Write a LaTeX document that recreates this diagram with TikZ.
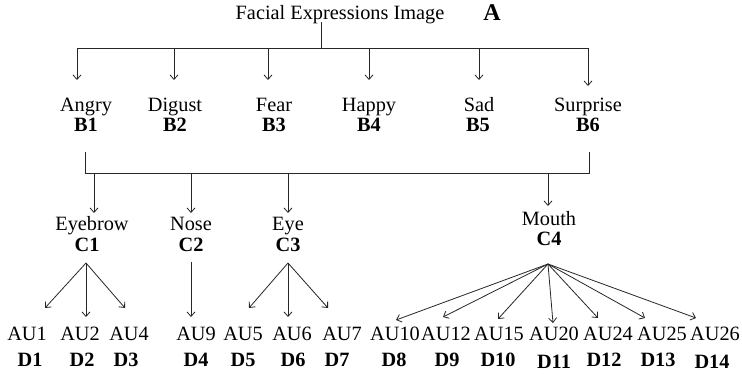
\documentclass[tikz,border=0pt]{standalone}
\usepackage{fontspec}
\setmainfont{Liberation Serif}
\usetikzlibrary{arrows.meta}
\begin{document}
\begin{tikzpicture}[x=1pt,y=-1pt,
  txt/.style={anchor=base,inner sep=0pt,font=\fontsize{20.3}{24}\selectfont},
  lbl/.style={anchor=base,inner sep=0pt,font=\fontsize{20.3}{24}\selectfont\bfseries},
  conn/.style={line width=0.8pt,draw=black!85},
  arr/.style={conn,-{Straight Barb[length=4.5pt,width=8pt]}}]
\path[use as bounding box] (0,0) rectangle (742,376);
% title
\node[txt] (title) at (340,19) {Facial Expressions Image};
\node[lbl,font=\fontsize{24}{28}\selectfont\bfseries] (lblA) at (492,20) {A};
% level B
\node[txt] (b1) at (86,111) {Angry};
\node[txt] (b2) at (175,111) {Digust};
\node[txt] (b3) at (274,111) {Fear};
\node[txt] (b4) at (369,111) {Happy};
\node[txt] (b5) at (479,111) {Sad};
\node[txt] (b6) at (588,111) {Surprise};
\node[lbl] (b1l) at (86,131) {B1};
\node[lbl] (b2l) at (175,131) {B2};
\node[lbl] (b3l) at (274,131) {B3};
\node[lbl] (b4l) at (369,131) {B4};
\node[lbl] (b5l) at (478,131) {B5};
\node[lbl] (b6l) at (588,131) {B6};
% level C
\node[txt] (c1) at (92,230) {Eyebrow};
\node[txt] (c2) at (191,230) {Nose};
\node[txt] (c3) at (288,230) {Eye};
\node[txt] (c4) at (549,225) {Mouth};
\node[lbl] (c1l) at (87,251) {C1};
\node[lbl] (c2l) at (191,251) {C2};
\node[lbl] (c3l) at (288,251) {C3};
\node[lbl] (c4l) at (549,245) {C4};
% level D
\foreach \n/\x/\t in {1/27/AU1,2/80/AU2,3/129/AU4,4/196/AU9,5/243/AU5,6/292/AU6,7/342/AU7,
  8/395/AU10,9/446/AU12,10/499/AU15,11/554/AU20,12/608/AU24,13/662/AU25,14/715/AU26}
  \node[txt] (d\n) at (\x,340) {\t};
\foreach \n/\x/\y in {1/30/366,2/82/366,3/126/366,4/196/366,5/243/366,6/293/366,7/337/366,
  8/394/366,9/447/366,10/498/366,11/554/368,12/604/366,13/658/366,14/712/368}
  \node[lbl] (d\n l) at (\x,\y) {D\n};
% coordinates
\coordinate (tA) at (321,22);
\coordinate (barA) at (321,48);
\coordinate (j1) at (77,48);
\coordinate (j6) at (588,48);
\foreach \n/\x/\y in {1/77/80,2/174/80,3/268/80,4/369/80,5/479/80,6/588/86}
  \coordinate (tb\n) at (\x,\y);
\coordinate (sb1) at (85,152);
\coordinate (sb6) at (589,152);
\coordinate (k1) at (85,173);
\coordinate (k6) at (589,173);
\foreach \n/\x/\y in {1/94/213,2/191/213,3/288/213,4/548/206}
  \coordinate (tc\n) at (\x,\y);
\coordinate (a1) at (86,263);
\coordinate (a2) at (191,262);
\coordinate (a3) at (288,263);
\coordinate (a4) at (548,264);
\foreach \n/\x/\y in {1/45/308,2/86/317,3/125/308,4/191/317,5/249/308,6/288/317,7/328/308,
  8/396/320,9/443/317,10/498/319,11/553/323,12/598/318,13/645/318,14/696/318}
  \coordinate (td\n) at (\x,\y);
% connectors level A -> B
\draw[conn] (tA) -- (barA);
\draw[conn] (j1) -- (j6);
\foreach \n in {1,...,6}
  \draw[arr] (tb\n |- barA) -- (tb\n);
% B -> C
\draw[conn] (sb1) -- (k1) -- (k6) -- (sb6);
\foreach \n in {1,...,4}
  \draw[arr] (tc\n |- k1) -- (tc\n);
% C -> D
\foreach \n in {1,2,3} \draw[arr] (a1) -- (td\n);
\draw[arr] (a2) -- (td4);
\foreach \n in {5,6,7} \draw[arr] (a3) -- (td\n);
\foreach \n in {8,...,14} \draw[arr] (a4) -- (td\n);
\end{tikzpicture}
\end{document}
